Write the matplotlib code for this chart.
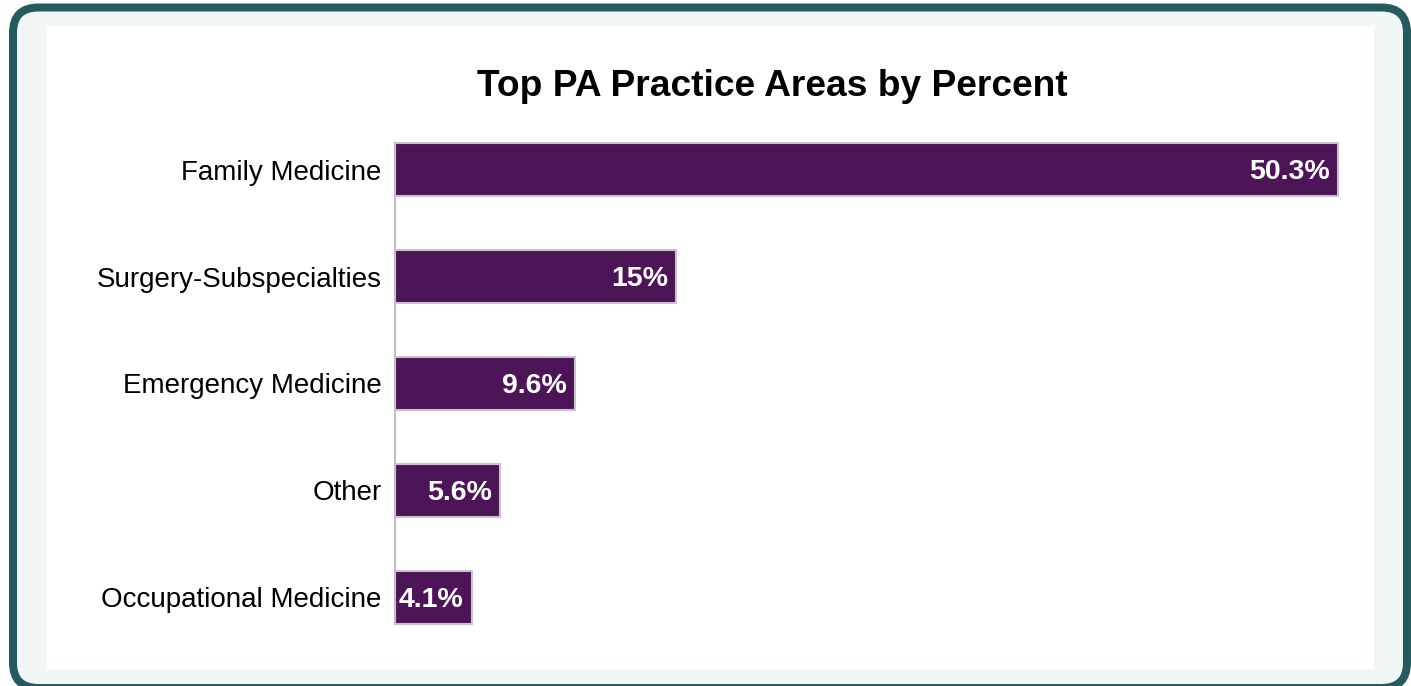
import matplotlib.pyplot as plt
from matplotlib.patches import FancyBboxPatch, Rectangle

categories = ["Family Medicine", "Surgery-Subspecialties", "Emergency Medicine",
              "Other", "Occupational Medicine"]
values = [50.3, 15, 9.6, 5.6, 4.1]
value_labels = ["50.3%", "15%", "9.6%", "5.6%", "4.1%"]

W, H = 1411, 686
plt.rcParams['font.family'] = ['Liberation Sans', 'DejaVu Sans']

fig = plt.figure(figsize=(W / 100, H / 100), dpi=100, facecolor="white")

# outer card with teal rounded border
card = FancyBboxPatch((13 / W, (H - 688) / H), (1407 - 13) / W, (688 - 7.5) / H,
                      boxstyle="round,pad=0,rounding_size=0.018",
                      transform=fig.transFigure, facecolor="#f1f6f7",
                      edgecolor="#245b5f", linewidth=8 * 0.72,
                      mutation_aspect=W / H, zorder=-2)
fig.patches.append(card)
panel = Rectangle((47 / W, (H - 669) / H), (1374 - 47) / W, (669 - 26) / H,
                  transform=fig.transFigure, facecolor="white", edgecolor="none",
                  zorder=-1)
fig.patches.append(panel)

ax = fig.add_axes([395 / W, (H - 624) / H, (1338 - 395) / W, (624 - 143) / H])
ax.set_facecolor("none")
ypos = list(range(len(categories)))
ax.barh(ypos, values, height=0.5, color="#4e1458", edgecolor="#c9c3cc",
        linewidth=1.5, clip_on=False)
ax.set_xlim(0, values[0])
ax.set_ylim(len(categories) - 0.75, -0.25)

for y, v, lab in zip(ypos, values, value_labels):
    ax.annotate(lab, (v, y), xytext=(-6, -1.8), textcoords="offset points",
                color="white", fontsize=20.5, fontweight="bold",
                ha="right", va="center")

ax.set_yticks(ypos)
ax.set_yticklabels(categories, fontsize=20, color="black")
ax.tick_params(axis="y", length=0, pad=9.5)
ax.set_xticks([])
for s in ["top", "right", "bottom"]:
    ax.spines[s].set_visible(False)
ax.spines["left"].set_color("#c0c0c0")
ax.spines["left"].set_linewidth(1.5)

fig.text(772 / W, 1 - 87 / H, "Top PA Practice Areas by Percent",
         fontsize=26.7, fontweight="bold", ha="center", va="center")

fig.savefig("out.png", dpi=100, facecolor=fig.get_facecolor())
